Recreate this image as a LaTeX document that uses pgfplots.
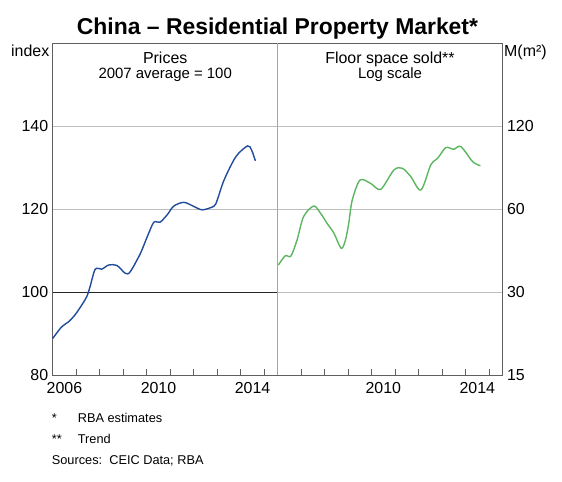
\documentclass[border=0pt]{standalone}
\usepackage{fontspec}
\setmainfont{Liberation Sans}
\usepackage{pgfplots}
\pgfplotsset{compat=1.18}
\definecolor{rbablue}{RGB}{33,75,155}
\definecolor{rbagreen}{RGB}{92,182,96}
\definecolor{framegray}{RGB}{95,95,95}
\definecolor{gridgray}{RGB}{190,190,190}
\definecolor{divgray}{RGB}{165,165,165}

\pgfplotsset{
  panel/.style={
    scale only axis, width=225bp, height=332bp,
    xmin=2006, xmax=2015.57,
    minor xtick={2007,...,2015},
    major tick length=0pt, minor tick length=6bp,
    tick align=inside, xtick pos=bottom,
    minor tick style={framegray, line width=0.8bp},
    axis line style={framegray, line width=0.9bp},
    ymajorgrids, grid style={gridgray, line width=0.8bp},
    yminorticks=false,
    /pgf/number format/assume math mode=true,
    ticklabel style={font=\fontsize{16}{18}\selectfont},
    xticklabel style={yshift=-3.5bp},
    clip=false,
  },
}

\begin{document}
\begin{tikzpicture}
\path[use as bounding box] (0bp,0bp) rectangle (562bp,482bp);

% Prices panel
\begin{axis}[panel, at={(52.7bp,107bp)}, anchor=south west,
  xtick={2006.5,2010.5,2014.5}, xticklabels={2006,2010,2014},
  ymin=80, ymax=160, ytick={80,100,120,140},
  yticklabels={80,100,120,140}, yticklabel pos=left,
  yticklabel style={xshift=-1bp}]
  \draw[black!85, line width=0.9bp] (axis cs:2006,100) -- (axis cs:2015.57,100);
  \addplot[rbablue, line width=1.4bp, smooth, tension=0.5] coordinates {
    (2006.00,88.8) (2006.38,91.6) (2006.67,92.8) (2006.95,94.5) (2007.24,96.9)
    (2007.45,98.9) (2007.59,101.3) (2007.81,105.5) (2008.09,105.5) (2008.38,106.5)
    (2008.73,106.4) (2009.09,104.5) (2009.30,104.9) (2009.73,109.3) (2010.02,113.3)
    (2010.30,116.8) (2010.56,116.8) (2010.87,118.6) (2011.15,120.7) (2011.58,121.6)
    (2012.01,120.6) (2012.37,119.8) (2012.86,120.7) (2013.00,122.2) (2013.29,127.0)
    (2013.79,132.6) (2014.29,135.2) (2014.46,134.2) (2014.62,131.6)
  };
\end{axis}

% Floor space panel
\begin{axis}[panel, at={(277.5bp,107bp)}, anchor=south west,
  xtick={2010.5,2014.5}, xticklabels={2010,2014},
  ymode=log, ymin=15, ymax=240, ytick={15,30,60,120},
  yticklabels={15,30,60,120}, yticklabel pos=right,
  yticklabel style={xshift=1bp}]
  \addplot[rbagreen, line width=1.4bp, smooth, tension=0.5] coordinates {
    (2006.04,37.6) (2006.33,40.6) (2006.57,40.5) (2006.83,46.3) (2007.11,56.3)
    (2007.54,61.5) (2007.83,57.9) (2008.11,53.2) (2008.40,49.0) (2008.71,43.2)
    (2008.89,46.3) (2009.03,53.3) (2009.18,64.7) (2009.51,76.4) (2009.96,74.3)
    (2010.39,70.7) (2010.95,83.1) (2011.31,84.3) (2011.67,78.6) (2012.10,70.3)
    (2012.52,86.7) (2012.81,91.6) (2013.16,100.2) (2013.49,98.8) (2013.80,101.0)
    (2014.30,89.1) (2014.63,86.1)
  };
\end{axis}

% divider between panels
\draw[divgray, line width=1.6bp] (277.6bp,107bp) -- (277.6bp,439bp);
\draw[framegray, line width=0.9bp] (52.7bp,107bp) -- (502.5bp,107bp);

% titles and units
\node[anchor=base, font=\bfseries\fontsize{23}{26}\selectfont] at (277.5bp,447bp) {China – Residential Property Market*};
\node[anchor=base, font=\fontsize{16}{18}\selectfont] at (165.2bp,418.7bp) {Prices};
\node[anchor=base, font=\fontsize{15}{17}\selectfont] at (165.2bp,403bp) {2007 average = 100};
\node[anchor=base, font=\fontsize{16}{18}\selectfont] at (390bp,418.7bp) {Floor space sold**};
\node[anchor=base, font=\fontsize{15}{17}\selectfont] at (390bp,403bp) {Log scale};
\node[anchor=base east, inner sep=0pt, font=\fontsize{16}{18}\selectfont] at (49.5bp,425.5bp) {index};
\node[anchor=base west, inner sep=0pt, font=\fontsize{16}{18}\selectfont] at (504bp,425.5bp) {M(m²)};

% notes
\begin{scope}[every node/.style={anchor=base west, inner sep=0pt, font=\fontsize{12.8}{15}\selectfont}]
\node at (51.7bp,59.3bp) {*};
\node at (77.7bp,59.3bp) {RBA estimates};
\node at (51.7bp,38.7bp) {**};
\node at (77.7bp,38.7bp) {Trend};
\node at (51.7bp,18bp) {Sources:\ \ CEIC Data; RBA};
\end{scope}
\end{tikzpicture}
\end{document}
